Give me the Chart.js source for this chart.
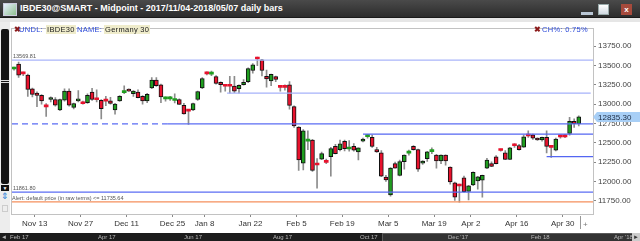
<!DOCTYPE html>
<html>
<head>
<meta charset="utf-8">
<script src="https://cdn.jsdelivr.net/npm/chart.js@4.4.1/dist/chart.umd.min.js"></script>
<style>
  body { margin: 0; width: 640px; height: 241px; overflow: hidden; background: #fff; position: relative; font-family: "Liberation Sans", Arial, sans-serif; }
  .abs { position: absolute; }
  #titlebar { left: 0; top: 0; width: 640px; height: 17px; background: linear-gradient(#4a4a4a, #2c2c2c); border-bottom: 1px solid #1a1a1a; }
  #title { left: 20px; top: 3px; color: #fff; font: bold 9px "Liberation Sans", Arial, sans-serif; white-space: nowrap; }
  #icon { left: 3px; top: 3px; width: 12px; height: 11px; background: linear-gradient(135deg, #e8f0ff, #8fc08f); border: 1px solid #ccd; }
  #strip { left: 0; top: 18px; width: 640px; height: 4px; background: #e6e6e6; }
  #btnMin { left: 581px; top: 12px; width: 12px; height: 3px; background: #b9c6d4; }
  #btnMax { left: 598px; top: 4px; width: 11px; height: 11px; background: linear-gradient(#ffffff, #d0d8e0); border: 1px solid #9aa; box-sizing: border-box; }
  #btnClose { left: 621px; top: 4px; width: 11px; height: 11px; background: #a64a3c; color: #fff; font: bold 8px Arial; text-align: center; line-height: 11px; }
  #scroll { left: 0; top: 22px; width: 10px; height: 211px; background: #ededed; }
  #thumb { left: 1px; top: 29px; width: 8px; height: 155px; background: #141414; border-radius: 2px; }
  .grip { left: 1px; width: 8px; height: 1px; background: #ddd; }
  #chart { left: 11px; top: 22px; }
  .lg { top: 25px; font-size: 7.5px; letter-spacing: 0.3px; line-height: 9px; white-space: nowrap; }
  .key { color: #2a48d8; }
  .val { color: #222; background: #efeccb; padding: 0 1px; }
  .x { color: #8b1a1a; font-weight: bold; }
  #bottom { left: 0; top: 233px; width: 640px; height: 8px; background: #1d1d1d; }
  #bthumb { left: 382px; top: 233px; width: 249px; height: 7px; background: #333; border: 1px solid #5a5a5a; }
  .bl { top: 233px; font-size: 6px; line-height: 8px; color: #b8b8b8; white-space: nowrap; }
</style>
</head>
<body>
<div id="titlebar" class="abs"></div>
<div id="icon" class="abs"></div>
<div id="title" class="abs">IBDE30@SMART - Midpoint - 2017/11/04-2018/05/07 daily bars</div>
<div id="btnMin" class="abs"></div>
<div id="btnMax" class="abs"></div>
<div id="btnClose" class="abs">x</div>
<div id="strip" class="abs"></div>
<div id="scroll" class="abs"></div>
<div id="thumb" class="abs"></div>
<div class="abs grip" style="top:80px"></div>
<div class="abs grip" style="top:82px"></div>
<canvas id="chart" class="abs" width="629" height="219"></canvas>
<div class="abs lg x" style="left:14px">✖</div>
<div class="abs lg key" style="left:19px">UNDL:</div>
<div class="abs lg val" style="left:46px">IBDE30</div>
<div class="abs lg key" style="left:77px">NAME:</div>
<div class="abs lg val" style="left:104px">Germany 30</div>
<div class="abs lg x" style="left:534px">✖</div>
<div class="abs lg key" style="left:542px">CH%: 0.75%</div>
<div class="abs" style="left:1px;top:185px;width:8px;height:6px;background:#111;color:#fff;font-size:5px;line-height:6px;text-align:center">▼</div>
<div class="abs" style="left:1px;top:191px;color:#2a7fd8;font-size:9px;line-height:10px">⇕</div>
<div class="abs" style="left:2px;top:205px;width:6px;height:7px;border:1px solid #ccc;box-sizing:border-box"></div>
<div class="abs" style="left:580px;top:216px;width:1px;height:13px;background:#999"></div>
<div class="abs" style="left:583px;top:221px;color:#777;font-size:8px;line-height:8px">+</div>
<div id="bottom" class="abs"></div>
<div id="bthumb" class="abs"></div>
<div class="abs bl" style="left:1px">◄</div>
<div class="abs bl" style="left:10px">Feb 17</div>
<div class="abs bl" style="left:98px">Apr 17</div>
<div class="abs bl" style="left:184px">Jun 17</div>
<div class="abs bl" style="left:273px">Aug 17</div>
<div class="abs bl" style="left:360px">Oct 17</div>
<div class="abs bl" style="left:448px">Dec '17</div>
<div class="abs bl" style="left:531px">Feb 18</div>
<div class="abs bl" style="left:614px">Apr '18</div>
<div class="abs" style="left:632px;top:233px;width:8px;height:8px;background:#ccc;color:#333;font-size:6px;line-height:8px;text-align:center">►</div>
<script>
// daily bars, 2017-11-06 .. 2018-05-07
const opens = [13455,13520,13400,13377,13198,13144,13114,12975,13060,13060,12925,13051,13169,12959,13043,13012,13018,13156,13063,13051,
  13046,13043,12925,13043,13150,13185,13135,13156,13101,13043,13210,13311,13252,13068,13068,13048,13060,12984,12918,12925,
  13060,13210,13398,13390,13357,13282,13238,13238,13235,13201,13252,13290,13436,13590,13574,13361,13302,13357,13222,13222,
  13252,12968,12704,12235,12522,12536,12218,12288,12251,12319,12455,12411,12520,12420,12453,12382,12520,12580,12570,12411,
  12369,12055,11825,12231,12077,12256,12366,12453,12411,12235,12294,12386,12340,12264,12340,12185,11983,11946,12046,11871,
  11955,12005,12016,12172,12231,12319,12406,12369,12285,12468,12465,12444,12594,12604,12561,12536,12570,12447,12403,12581,
  12581,12620,12779,12746];
const highs = [13480,13545,13415,13390,13210,13160,13125,13009,13095,13085,13065,13198,13198,13015,13176,13040,13135,13206,13185,13060,
  13100,13090,13010,13110,13239,13200,13175,13185,13110,13140,13344,13344,13260,13095,13100,13135,13070,13010,12930,13015,
  13170,13344,13420,13427,13370,13290,13250,13361,13361,13250,13320,13470,13525,13610,13580,13440,13390,13365,13240,13250,
  13294,12980,12710,12670,12654,12545,12297,12380,12290,12440,12480,12536,12536,12530,12490,12436,12560,12611,12600,12440,
  12400,12080,12180,12250,12275,12345,12405,12465,12420,12270,12390,12436,12350,12345,12345,12190,11990,11965,12068,11950,
  12125,12065,12082,12300,12255,12335,12420,12400,12440,12490,12480,12600,12654,12612,12565,12575,12654,12455,12560,12600,
  12610,12830,12810,12850];
const lows = [13440,13345,13370,13100,13093,12968,13000,12842,13030,12975,12915,13040,12975,12940,13030,13000,13010,13050,13030,12808,
  12980,13000,12871,13035,13135,13165,13100,13080,13000,13020,13200,13230,13018,13040,13050,13015,12997,12870,12737,12915,
  13050,13200,13380,13370,13260,13156,13170,13144,13150,13143,13245,13280,13400,13500,13365,13219,13240,13290,13170,13180,
  12934,12700,12143,12150,12410,12130,11913,12280,12230,12068,12355,12395,12395,12390,12390,12277,12510,12560,12440,12375,
  12060,12000,11808,12170,12070,12160,12340,12405,12130,12220,12260,12360,12172,12230,12210,11965,11754,11730,11860,11760,
  11945,11900,11795,12165,12190,12225,12390,12280,12280,12440,12405,12440,12570,12545,12530,12520,12369,12310,12395,12560,
  12565,12600,12700,12720];
const closes = [13465,13377,13392,13190,13126,13114,13043,12965,13085,12988,13060,13169,12988,13009,13068,13006,13114,13060,13057,12943,
  13040,13009,13001,13101,13160,13169,13169,13085,13043,13126,13311,13239,13093,13075,13075,13054,12997,12875,12910,13009,
  13164,13332,13392,13398,13269,13252,13232,13232,13169,13244,13282,13461,13511,13585,13436,13327,13386,13319,13218,13218,
  12984,12720,12277,12654,12534,12143,12212,12360,12247,12424,12360,12488,12424,12428,12403,12436,12549,12586,12453,12382,
  12068,12018,12172,12172,12256,12340,12372,12411,12160,12264,12382,12392,12264,12340,12264,11992,11795,11940,11867,11942,
  12118,12058,12078,12277,12193,12231,12400,12285,12436,12462,12411,12578,12588,12561,12536,12570,12453,12441,12549,12576,
  12576,12779,12746,12835];

// x-axis: week ticks sit between bars
const tickLabels = ['Nov 13','Nov 27','Dec 11','Dec 25','Jan 8','Jan 22','Feb 5','Feb 19','Mar 5','Mar 19','Apr 2','Apr 16','Apr 30'];
const tickPos = [4.5,14.5,24.5,34.5,41.5,51.5,61.5,71.5,81.5,91.5,99.5,109.5,119.5];
const yTicks = [11750,12000,12250,12500,12750,13000,13250,13500,13750];

// horizontal study lines (value, first bar, last bar)
const levelValues = [13569.81, 13143, 12745, 12745, 12612, 12321, 11861.80, 11735.64];
const levelFrom   = [-0.44, 46.4, -0.44, 33.5, 76, 116, -0.44, -0.44];
const levelTo     = [126.1, 125.6, 33.5, 126.1, 126.1, 126.1, 126.1, 126.1];
const levelColors = ['#aab5fa','#a6b2fa','#5b6cf3','#5b6cf3','#5466f2','#5466f2','#5b6cf3','#f58f5c'];

const lastPrice = 12835.30;
const GREEN = '#1f9e1f', RED = '#e8122d';

const xMin = -0.44, xMax = 126.1;
const isDoji = i => Math.abs(closes[i] - opens[i]) < 14;

const wicks = highs.map((h, i) => ({ x: i, y: [lows[i], h] }));
const bodies = opens.map((o, i) => ({ x: i, y: [o, closes[i]] }));

const datasets = levelValues.map((v, k) => ({
  type: 'line',
  data: [{ x: levelFrom[k], y: v }, { x: levelTo[k], y: v }],
  borderColor: levelColors[k],
  borderWidth: 1.2,
  borderDash: k === 2 ? [6, 4] : [],
  pointRadius: 0,
  order: 0
}));
datasets.push({
  type: 'bar', data: wicks, backgroundColor: '#8c8c8c', barThickness: 1,
  borderWidth: 0, order: 3, grouped: false
});
datasets.push({
  type: 'bar', data: bodies, barThickness: 4, minBarLength: 2, grouped: false, order: 2,
  backgroundColor: c => closes[c.dataIndex] >= opens[c.dataIndex] ? GREEN : RED,
  borderColor: '#111',
  borderWidth: c => isDoji(c.dataIndex) ? 0 : 1,
  borderSkipped: false
});

const extras = {
  id: 'extras',
  beforeDatasetsDraw(chart) {
    const { ctx, chartArea: a } = chart;
    ctx.save();
    ctx.strokeStyle = '#c2c2c2';
    ctx.lineWidth = 1;
    ctx.strokeRect(Math.round(a.left) - 0.5, Math.round(a.top) - 0.5, Math.round(a.width) + 1, Math.round(a.height) + 1);
    ctx.restore();
  },
  afterDraw(chart) {
    const { ctx, chartArea: a, scales: { y } } = chart;
    ctx.save();
    ctx.font = '5.5px "Liberation Sans", Arial';
    ctx.fillStyle = '#555';
    ctx.textBaseline = 'alphabetic';
    ctx.fillText('13569.81', a.left + 1, y.getPixelForValue(levelValues[0]) - 2.5);
    ctx.fillText('11861.80', a.left + 1, y.getPixelForValue(levelValues[6]) - 2);
    ctx.fillText('Alert: default price (in raw terms) <= 11735.64', a.left, y.getPixelForValue(levelValues[7]) - 1.5);
    // last price marker
    const py = y.getPixelForValue(lastPrice);
    const bx = a.right + 2;
    ctx.fillStyle = '#a8cff6';
    ctx.beginPath();
    ctx.moveTo(bx - 2, py);
    ctx.lineTo(bx + 2, py - 5);
    ctx.lineTo(bx + 45, py - 5);
    ctx.lineTo(bx + 45, py + 5);
    ctx.lineTo(bx + 2, py + 5);
    ctx.closePath();
    ctx.fill();
    ctx.fillStyle = '#1c2c44';
    ctx.font = '8px "Liberation Sans", Arial';
    ctx.textBaseline = 'middle';
    ctx.fillText(lastPrice.toFixed(2), bx + 3, py + 0.5);
    ctx.restore();
  }
};

new Chart(document.getElementById('chart'), {
  type: 'bar',
  data: { datasets },
  options: {
    responsive: false,
    animation: false,
    layout: { padding: { left: 1, top: 1, right: 0, bottom: 0 } },
    plugins: { legend: { display: false }, tooltip: { enabled: false } },
    scales: {
      x: {
        type: 'linear', min: xMin, max: xMax, offset: false,
        afterBuildTicks: s => { s.ticks = tickPos.map(v => ({ value: v })); },
        afterFit: s => { s.height = 27; },
        grid: { drawOnChartArea: false, tickLength: 3, color: '#888', offset: false },
        border: { display: false },
        ticks: {
          callback: (v, i) => tickLabels[i],
          autoSkip: false, maxRotation: 0, padding: 2,
          color: '#333', font: { family: '"Liberation Sans", Arial', size: 8 }
        }
      },
      y: {
        position: 'right', min: 11578, max: 13976,
        afterBuildTicks: s => { s.ticks = yTicks.map(v => ({ value: v })); },
        afterFit: s => { s.width = 47; },
        grid: { drawOnChartArea: false, tickLength: 3, color: '#888' },
        border: { display: false },
        ticks: {
          callback: v => v.toFixed(2), padding: 2,
          color: '#444', font: { family: '"Liberation Sans", Arial', size: 8 }
        }
      }
    }
  },
  plugins: [extras]
});
</script>
</body>
</html>
